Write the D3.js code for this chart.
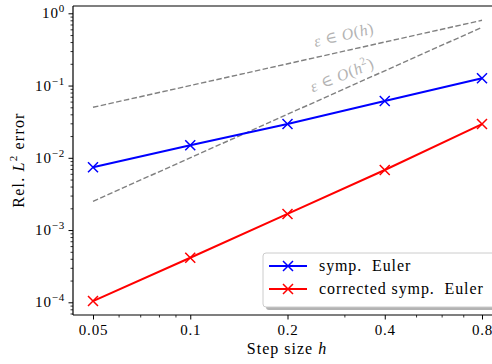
<!DOCTYPE html>
<html><head><meta charset="utf-8">
<script src="https://cdn.jsdelivr.net/npm/d3@7/dist/d3.min.js"></script>
<style>
html,body{margin:0;padding:0;background:#fff;overflow:hidden}
text{font-family:"Liberation Serif","DejaVu Serif",serif;}
</style></head>
<body>
<svg id="c" width="492" height="364"></svg>
<script>
const stepSizes = [0.05, 0.1, 0.2, 0.4, 0.8];
const sympEuler = [0.0074, 0.0149, 0.0294, 0.061, 0.126];
const correctedEuler = [0.000104, 0.000414, 0.00167, 0.00678, 0.0293];
const refOrder1 = [0.05, 0.8];   // eps = h
const refOrder2 = [0.0025, 0.64]; // eps = h^2
const xTicks = [0.05, 0.1, 0.2, 0.4, 0.8];
const xMinorTicks = [0.06, 0.07, 0.08, 0.09, 0.3, 0.5, 0.6, 0.7];
const yTickExps = [0, -1, -2, -3, -4];
const seriesNames = ["symp.  Euler", "corrected symp.  Euler"];
const seriesColors = ["#0000ff", "#ff0000"];

const svg = d3.select("#c");
const axL = 73, axR = 502, axT = 6, axB = 315;

const x = d3.scaleLog().base(2).domain([0.05, 0.8]).range([93, 482]);
const y = d3.scaleLog().domain([1, 1e-4]).range([13.3, 302.3]);

// reference dashed lines
const line = d3.line().x(d => x(d[0])).y(d => y(d[1]));
[[refOrder1], [refOrder2]].forEach(([r]) => {
  svg.append("path")
    .attr("d", line([[0.05, r[0]], [0.8, r[1]]]))
    .attr("fill", "none").attr("stroke", "#808080")
    .attr("stroke-width", 1.4).attr("stroke-dasharray", "5.5,2.4");
});

// annotations
function ann(cx, cy, rot, sup) {
  const t = svg.append("text")
    .attr("transform", `translate(${cx},${cy}) rotate(${rot})`)
    .attr("text-anchor", "middle").attr("fill", "#b3b3b3")
    .style("font-size", "16px").style("letter-spacing", "0.6px");
  t.append("tspan").style("font-style", "italic").text("ε");
  t.append("tspan").text(" ∈ ");
  t.append("tspan").style("font-style", "italic").text("O");
  t.append("tspan").text("(");
  t.append("tspan").style("font-style", "italic").text("h");
  if (sup) {
    t.append("tspan").attr("dy", -7).style("font-size", "11px").text("2");
    t.append("tspan").attr("dy", 7).text(")");
  } else t.append("tspan").text(")");
}
ann(345, 40, -13, false);
ann(344, 80, -22, true);

// series
const series = [sympEuler, correctedEuler];
series.forEach((vals, i) => {
  const pts = stepSizes.map((h, j) => [h, vals[j]]);
  svg.append("path").attr("d", line(pts)).attr("fill", "none")
    .attr("stroke", seriesColors[i]).attr("stroke-width", 2);
  pts.forEach(p => {
    const px = x(p[0]), py = y(p[1]), s = 5;
    svg.append("path")
      .attr("d", `M${px - s},${py - s}L${px + s},${py + s}M${px - s},${py + s}L${px + s},${py - s}`)
      .attr("stroke", seriesColors[i]).attr("stroke-width", 1.5);
  });
});

// axes frame
svg.append("line").attr("x1", axL).attr("x2", axR).attr("y1", axT).attr("y2", axT).attr("stroke", "#000").attr("stroke-width", 1.2);
svg.append("line").attr("x1", axL).attr("x2", axR).attr("y1", axB).attr("y2", axB).attr("stroke", "#000").attr("stroke-width", 1.2);
svg.append("line").attr("x1", axL).attr("x2", axL).attr("y1", axT).attr("y2", axB).attr("stroke", "#000").attr("stroke-width", 1.2);
svg.append("line").attr("x1", axR).attr("x2", axR).attr("y1", axT).attr("y2", axB).attr("stroke", "#000").attr("stroke-width", 1.2);

// x axis
const xAxis = d3.axisBottom(x).tickValues(xTicks).tickSize(4.5).tickPadding(5)
  .tickFormat(d => String(d));
const gx = svg.append("g").attr("transform", `translate(0,${axB})`).call(xAxis);
gx.select(".domain").remove();
gx.selectAll("text").style("font-size", "15px").style("letter-spacing", "0.8px")
  .attr("fill", "#000").attr("font-family", null);
gx.selectAll("line").attr("stroke-width", 1);
const gxm = svg.append("g").attr("transform", `translate(0,${axB})`)
  .call(d3.axisBottom(x).tickValues(xMinorTicks).tickSize(2.5).tickFormat(""));
gxm.select(".domain").remove();
gxm.selectAll("line").attr("stroke-width", 0.8);

// y axis
const yAxis = d3.axisLeft(y).tickValues(yTickExps.map(e => Math.pow(10, e))).tickSize(4.5).tickFormat("");
const gy = svg.append("g").attr("transform", `translate(${axL},0)`).call(yAxis);
gy.select(".domain").remove();
gy.selectAll("line").attr("stroke-width", 1);
const yMinor = [];
for (let e = -5; e <= 0; e++) for (let m = 2; m <= 9; m++) {
  const v = m * Math.pow(10, e);
  if (y(v) >= axT && y(v) <= axB) yMinor.push(v);
}
const gym = svg.append("g").attr("transform", `translate(${axL},0)`)
  .call(d3.axisLeft(y).tickValues(yMinor).tickSize(2.5).tickFormat(""));
gym.select(".domain").remove();
gym.selectAll("line").attr("stroke-width", 0.8);
yTickExps.forEach(e => {
  const t = svg.append("text").attr("x", 65).attr("y", y(Math.pow(10, e)) + 5)
    .attr("text-anchor", "end").style("font-size", "15px");
  t.append("tspan").style("letter-spacing", "0.8px").text("10");
  t.append("tspan").attr("dy", -6).style("font-size", "11px").style("letter-spacing", "0.8px")
    .text(e === 0 ? "0" : "−" + (-e));
});

// axis labels
const xl = svg.append("text").attr("x", 287).attr("y", 354).attr("text-anchor", "middle")
  .style("font-size", "16px").style("letter-spacing", "1px");
xl.append("tspan").text("Step size ");
xl.append("tspan").style("font-style", "italic").text("h");
const yl = svg.append("text").attr("transform", "translate(24,160) rotate(-90)").attr("text-anchor", "middle")
  .style("font-size", "16px").style("letter-spacing", "1.2px");
yl.append("tspan").text("Rel. ");
yl.append("tspan").style("font-style", "italic").text("L");
yl.append("tspan").attr("dy", -7).style("font-size", "11px").text("2");
yl.append("tspan").attr("dy", 7).text(" error");

// legend
const lg = svg.append("g");
lg.append("rect").attr("x", 266).attr("y", 256).attr("width", 240).attr("height", 54).attr("rx", 3)
  .attr("fill", "#b3b3b3");
lg.append("rect").attr("x", 263).attr("y", 253).attr("width", 240).attr("height", 54).attr("rx", 3)
  .attr("fill", "#fff").attr("stroke", "#cccccc").attr("stroke-width", 1);
seriesNames.forEach((n, i) => {
  const cy = 266 + i * 23;
  lg.append("line").attr("x1", 269).attr("x2", 307).attr("y1", cy).attr("y2", cy)
    .attr("stroke", seriesColors[i]).attr("stroke-width", 2);
  const s = 5, px = 288;
  lg.append("path").attr("d", `M${px - s},${cy - s}L${px + s},${cy + s}M${px - s},${cy + s}L${px + s},${cy - s}`)
    .attr("stroke", seriesColors[i]).attr("stroke-width", 1.5);
  lg.append("text").attr("x", 319).attr("y", cy + 5).style("font-size", "16px")
    .style("letter-spacing", "0.9px").style("white-space", "pre").text(n);
});
</script>
</body></html>
